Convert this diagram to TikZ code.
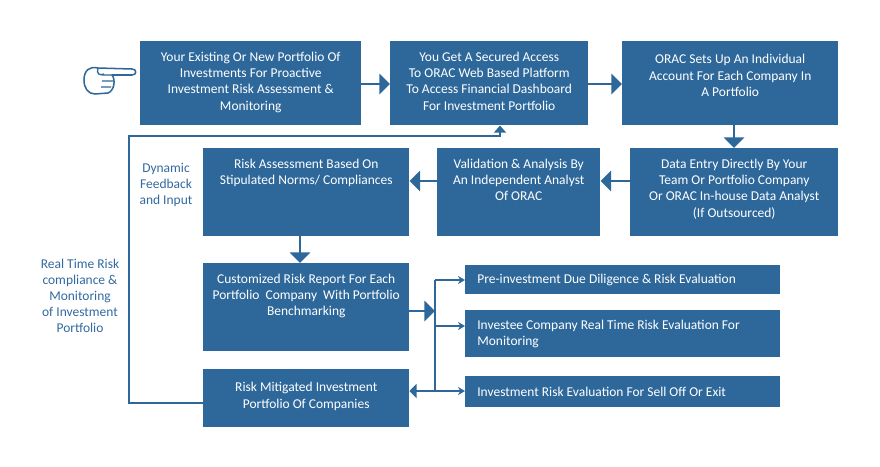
\documentclass[tikz,border=0pt]{standalone}
\usepackage{fontspec}
\setmainfont{Carlito}
\usetikzlibrary{arrows.meta}
\definecolor{oblue}{RGB}{46,104,155}
\definecolor{otext}{RGB}{50,105,160}

\tikzset{
  box/.style={fill=oblue, draw=none, anchor=north west, inner sep=0pt},
  boxtext/.style={text=white, align=center, font=\fontsize{11.5}{13.8}\selectfont},
  flow/.style={draw=oblue, line width=2.5pt, -{Triangle[length=9pt,width=17pt]}},
  branch/.style={draw=oblue, line width=1.5pt, -{Stealth[length=6pt,width=7pt]}},
  note/.style={text=otext, align=center, font=\fontsize{11.5}{13.8}\selectfont}
}

\begin{document}
\begin{tikzpicture}[x=0.03cm, y=-0.03cm]
	\useasboundingbox (0,0) rectangle (880,466);
	
	% top row
	\node[box, minimum width=221*0.03cm, minimum height=84*0.03cm] (own) at (140,41) {};
	\node[boxtext, anchor=north] at ([yshift=-6pt]own.north) {Your Existing Or New Portfolio Of\\Investments For Proactive\\Investment Risk Assessment \&\\Monitoring};
	\node[box, minimum width=198*0.03cm, minimum height=84*0.03cm] (access) at (390,41) {};
	\node[boxtext, anchor=north] at ([yshift=-6pt]access.north) {You Get A Secured Access\\To ORAC Web Based Platform\\To Access Financial Dashboard\\For Investment Portfolio};
	\node[box, minimum width=216*0.03cm, minimum height=84*0.03cm] (account) at (622,41) {};
	\node[boxtext, anchor=north] at ([yshift=-8pt]account.north) {ORAC Sets Up An Individual\\Account For Each Company In\\A Portfolio};
	
	% second row
	\node[box, minimum width=208*0.03cm, minimum height=88*0.03cm] (entry) at (630,148) {};
	\node[boxtext, anchor=north] at ([yshift=-6pt]entry.north) {Data Entry Directly By Your\\Team Or Portfolio Company\\Or ORAC In-house Data Analyst\\(If Outsourced)};
	\node[box, minimum width=163*0.03cm, minimum height=88*0.03cm] (valid) at (437,148) {};
	\node[boxtext, anchor=north] at ([yshift=-6pt]valid.north) {Validation \& Analysis By\\An Independent Analyst\\Of ORAC};
	\node[box, minimum width=206*0.03cm, minimum height=88*0.03cm] (assess) at (203,148) {};
	\node[boxtext, anchor=north] at ([yshift=-6pt]assess.north) {Risk Assessment Based On\\Stipulated Norms/ Compliances};
	
	% left column
	\node[box, minimum width=206*0.03cm, minimum height=88*0.03cm] (report) at (203,263) {};
	\node[boxtext, anchor=north] at ([yshift=-6pt]report.north) {Customized Risk Report For Each\\Portfolio\ \ Company\ \ With Portfolio\\Benchmarking};
	\node[box, minimum width=206*0.03cm, minimum height=58*0.03cm] (mitig) at (203,369) {};
	\node[boxtext, anchor=north] at ([yshift=-8pt]mitig.north) {Risk Mitigated Investment\\Portfolio Of Companies};
	
	% right column
	\node[box, minimum width=315*0.03cm, minimum height=29*0.03cm] (pre) at (465,265) {};
	\node[boxtext, align=left, anchor=west] at ([xshift=7pt]pre.west) {Pre-investment Due Diligence \& Risk Evaluation};
	\node[box, minimum width=315*0.03cm, minimum height=47*0.03cm] (investee) at (465,310) {};
	\node[boxtext, align=left, anchor=west] at ([xshift=7pt]investee.west) {Investee Company Real Time Risk Evaluation For\\Monitoring};
	\node[box, minimum width=315*0.03cm, minimum height=31*0.03cm] (exit) at (465,376) {};
	\node[boxtext, align=left, anchor=west] at ([xshift=7pt]exit.west) {Investment Risk Evaluation For Sell Off Or Exit};
	
	% main flow
	\draw[flow] (own.east |- 0,84) -- (access.west |- 0,84);
	\draw[flow] (access.east |- 0,84) -- (account.west |- 0,84);
	\draw[flow] (account.south -| 734,0) -- (entry.north -| 734,0);
	\draw[flow] (entry.west |- 0,181) -- (valid.east |- 0,181);
	\draw[flow] (valid.west |- 0,181) -- (assess.east |- 0,181);
	\draw[flow] (assess.south -| 300,0) -- (report.north -| 300,0);
	
	% branches
	\coordinate (fork) at (435,311);
	\draw[flow] (report.east |- fork) -- (fork);
	\draw[draw=oblue, line width=1.5pt] (435,280) -- (435,391);
	\draw[branch] (435,280) -- (pre.west |- 0,280);
	\draw[branch] (435,326) -- (investee.west |- 0,326);
	\draw[branch] (435,391) -- (exit.west |- 0,391);
	\draw[draw=oblue, line width=1.5pt, -{Triangle[length=6pt,width=12pt]}] (435,391) -- (mitig.east |- 0,391);
	
	% feedback loop
	\draw[draw=oblue, line width=1.5pt, -{Triangle[length=6pt,width=10pt]}] (mitig.west |- 0,403) -- (129,403) -- (129,136) -- (500,136) -- (access.south -| 500,0);
	
	% notes
	\node[note] (dyn) at (166,185) {Dynamic\\Feedback\\and Input};
	\node[note] (real) at (80,296) {Real Time Risk\\compliance \&\\Monitoring\\of Investment\\Portfolio};
	
	% pointing hand
	\draw[oblue, line width=1.3pt, line join=round, fill=white]
		(84,80) .. controls (84,70) and (90,66) .. (98,68)
		-- (132,69) .. controls (137,69) and (137,75) .. (132,75)
		-- (112,75) .. controls (116,80) and (114,91) .. (108,93)
		-- (95,94) .. controls (88,94) and (84,88) .. (84,80) -- cycle;
	\draw[oblue, line width=1.1pt] (102,75) -- (114,75) (102,81) -- (113,81) (101,87) -- (111,87) (98,68) .. controls (96,74) and (100,76) .. (104,74);
\end{tikzpicture}
\end{document}
